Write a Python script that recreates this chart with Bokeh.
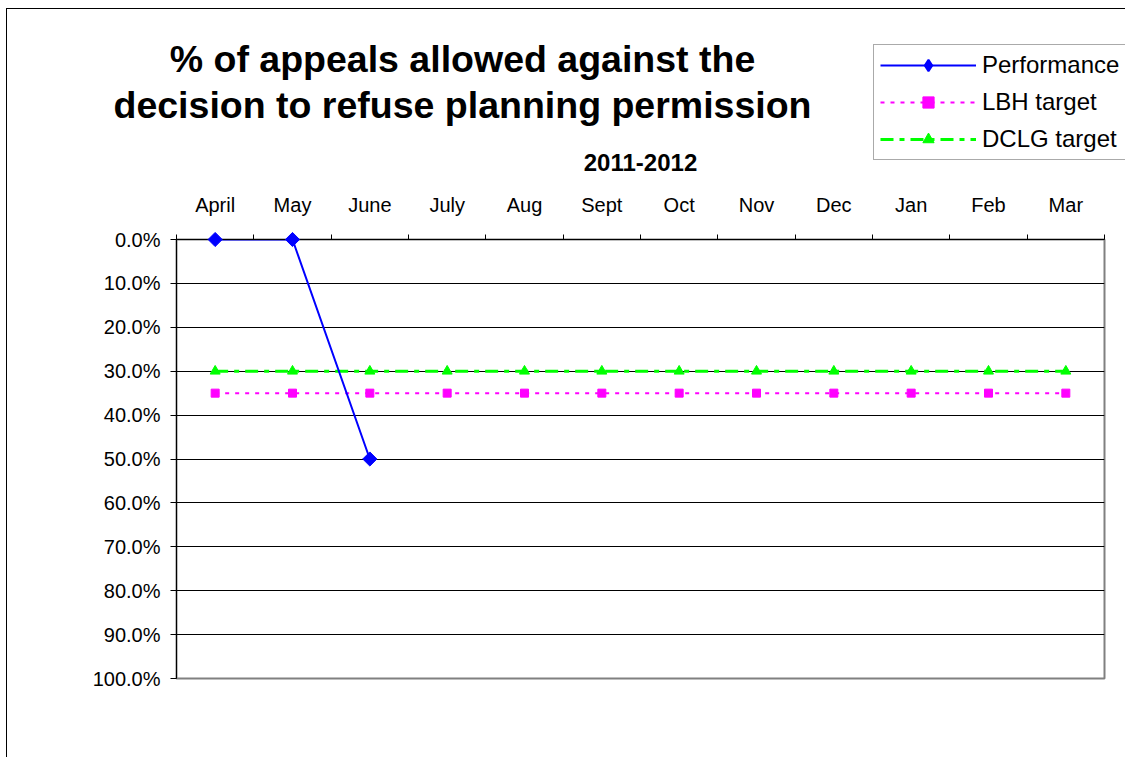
import numpy as np
from bokeh.plotting import figure
from bokeh.layouts import column
from bokeh.models import (Range1d, FixedTicker, NumeralTickFormatter, Legend,
                          LegendItem, Label)
from bokeh.embed import file_html
from bokeh.resources import INLINE

# ---------------- data ----------------
title_lines = ["% of appeals allowed against the",
               "decision to refuse planning permission"]
period_label = "2011-2012"
months = ["April", "May", "June", "July", "Aug", "Sept",
          "Oct", "Nov", "Dec", "Jan", "Feb", "Mar"]
performance = [0.0, 0.0, 0.5]
lbh_target = [0.35, 0.35, 0.35, 0.35, 0.35, 0.35,
              0.35, 0.35, 0.35, 0.35, 0.35, 0.35]
dclg_target = [0.30, 0.30, 0.30, 0.30, 0.30, 0.30,
               0.30, 0.30, 0.30, 0.30, 0.30, 0.30]
y_ticks = [0.0, 0.1, 0.2, 0.3, 0.4, 0.5, 0.6, 0.7, 0.8, 0.9, 1.0]
series_names = ["Performance", "LBH target", "DCLG target"]

FONT = "Liberation Sans"
W = 1125
TOP_H = 190
CHART_H = 565
FRAME_TOP = 237  # page y of the 0% line

n = len(months)
x_idx = list(range(n))
x_perf = x_idx[:len(performance)]

# series styles
PERF = dict(line_color="#0000FF", line_width=2)
PERF_M = dict(marker="square", angle=np.pi / 4, size=10,
              fill_color="#0000FF", line_color="#0000FF")
PERF_KEY = dict(marker="diamond", size=15,
                fill_color="#0000FF", line_color="#0000FF", line_width=2)
LBH = dict(line_color="#FF00FF", line_width=2, line_dash="4 6")
LBH_M = dict(marker="square", size=8, fill_color="#FF00FF", line_color="#FF00FF")
DCLG = dict(line_color="#00FF00", line_width=3, line_dash="13 6 5 6")
DCLG_M = dict(marker="triangle", size=10, fill_color="#00FF00", line_color="#00FF00")

# ---------------- chart ----------------
mb_top = FRAME_TOP - TOP_H
p = figure(width=W, height=CHART_H, frame_width=928, frame_height=439,
           min_border_left=176, min_border_right=W - 176 - 928,
           min_border_top=mb_top, min_border_bottom=CHART_H - mb_top - 439,
           x_range=Range1d(-0.5, n - 0.5), y_range=Range1d(1.0, 0.0),
           x_axis_location="above", y_axis_location="left",
           output_backend="svg", toolbar_location=None,
           background_fill_color="white", border_fill_alpha=0)

p.outline_line_color = "#808080"
p.outline_line_width = 2

xa = p.xaxis[0]
xa.ticker = FixedTicker(ticks=x_idx,
                        minor_ticks=[i - 0.5 for i in range(n + 1)])
xa.major_label_overrides = {i: m for i, m in enumerate(months)}
xa.major_tick_out = 0
xa.major_tick_in = 0
xa.minor_tick_out = 5
xa.minor_tick_in = 0
xa.minor_tick_line_color = "black"
xa.axis_line_color = "black"
xa.major_label_text_font = FONT
xa.major_label_text_font_size = "20px"
xa.major_label_text_color = "black"
xa.major_label_standoff = 19

ya = p.yaxis[0]
ya.ticker = FixedTicker(ticks=y_ticks, minor_ticks=[])
ya.formatter = NumeralTickFormatter(format="0.0%")
ya.major_tick_out = 6
ya.major_tick_in = 0
ya.minor_tick_out = 0
ya.axis_line_color = "black"
ya.major_label_text_font = FONT
ya.major_label_text_font_size = "20px"
ya.major_label_text_color = "black"
ya.major_label_standoff = 10

p.xgrid.visible = False
p.ygrid.grid_line_color = "black"
p.ygrid.grid_line_width = 1

p.line(x_idx, lbh_target, **LBH)
p.scatter(x_idx, lbh_target, **LBH_M)
p.line(x_idx, dclg_target, **DCLG)
p.scatter(x_idx, dclg_target, **DCLG_M)
p.line(x_perf, performance, **PERF)
p.scatter(x_perf, performance, level="overlay", **PERF_M)

# ---------------- header: title, period label, legend ----------------
top = figure(width=W, height=TOP_H, min_border=0,
             x_range=Range1d(0, W), y_range=Range1d(TOP_H, 0),
             x_axis_location=None, y_axis_location=None,
             output_backend="svg", toolbar_location=None,
             background_fill_alpha=0, border_fill_alpha=0)
top.grid.visible = False
top.outline_line_color = None

for fig in (top, p):
    if "frame_align" in fig.properties():
        fig.frame_align = False

# legend proxies (hidden copies of the series, only used for the key)
lp1 = top.line(x_perf, performance, visible=False, **PERF)
mp1 = top.scatter(x_perf, performance, visible=False, **PERF_KEY)
lp2 = top.line(x_idx, lbh_target, visible=False, **LBH)
mp2 = top.scatter(x_idx, lbh_target, visible=False, **LBH_M)
lp3 = top.line(x_idx, dclg_target, visible=False, **DCLG)
mp3 = top.scatter(x_idx, dclg_target, visible=False, **DCLG_M)

legend = Legend(items=[
    LegendItem(label=series_names[0], renderers=[lp1, mp1]),
    LegendItem(label=series_names[1], renderers=[lp2, mp2]),
    LegendItem(label=series_names[2], renderers=[lp3, mp3]),
], location=(873, TOP_H - 160))
legend.border_line_color = "#555555"
legend.border_line_width = 1
legend.background_fill_color = "white"
legend.background_fill_alpha = 1
legend.inactive_fill_alpha = 0
legend.label_text_font = FONT
legend.label_text_font_size = "24px"
legend.label_text_color = "black"
legend.glyph_width = 96
legend.glyph_height = 28
legend.label_height = 28
legend.spacing = 9
legend.padding = 6
legend.margin = 0
legend.label_standoff = 6
legend.click_policy = "none"
top.add_layout(legend, "center")

for txt, yv in zip(title_lines, [58, 104]):
    top.add_layout(Label(x=462, y=yv, text=txt, text_align="center",
                         text_baseline="alphabetic", text_font=FONT,
                         text_font_size="37.5px", text_font_style="bold",
                         text_color="black"))
top.add_layout(Label(x=176 + 928 / 2, y=162, text=period_label,
                     text_align="center", text_baseline="alphabetic",
                     text_font=FONT, text_font_size="24px",
                     text_font_style="bold", text_color="black"))

layout = column(top, p, spacing=0, styles={
    "background-image": "linear-gradient(#000,#000), linear-gradient(#000,#000)",
    "background-size": "1px 100%, 100% 1px",
    "background-position": "6px 8px, 6px 8px",
    "background-repeat": "no-repeat",
})

open("out.html", "w").write(file_html(layout, INLINE))
